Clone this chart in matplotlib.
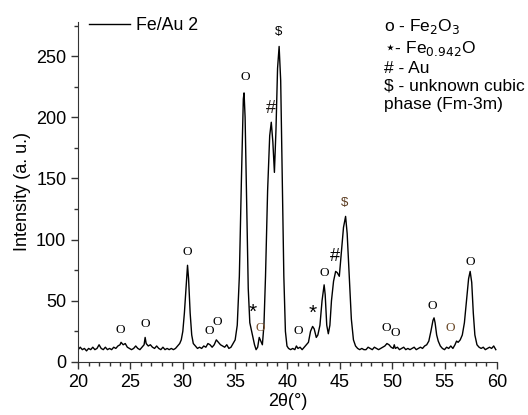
import matplotlib
matplotlib.use("Agg")
import matplotlib.pyplot as plt
from matplotlib.ticker import MultipleLocator

plt.rcParams['font.family'] = ['Liberation Sans', 'DejaVu Sans']

# XRD pattern: 2theta (deg), intensity (a. u.)
two_theta = [
    20.0, 20.2, 20.4, 20.6, 20.8, 21.0, 21.2, 21.4, 21.6, 21.8, 22.0, 22.2, 22.4, 22.6,
    22.8, 23.0, 23.2, 23.4, 23.6, 23.8, 24.0, 24.1, 24.3, 24.5, 24.7, 24.9, 25.1, 25.3,
    25.5, 25.7, 25.9, 26.1, 26.3, 26.4, 26.5, 26.7, 26.9, 27.1, 27.3, 27.5, 27.7, 27.9,
    28.1, 28.3, 28.5, 28.7, 28.9, 29.1, 29.3, 29.5, 29.7, 29.85, 30.0, 30.15, 30.3, 30.45,
    30.55, 30.7, 30.85, 31.0, 31.2, 31.4, 31.6, 31.8, 32.0, 32.2, 32.4, 32.6, 32.8, 33.0,
    33.2, 33.4, 33.6, 33.8, 34.0, 34.2, 34.4, 34.6, 34.8, 35.0, 35.2, 35.4, 35.6, 35.78,
    35.85, 35.95, 36.1, 36.25, 36.4, 36.55, 36.7, 36.85, 37.0, 37.15, 37.3, 37.45, 37.6,
    37.75, 37.9, 38.1, 38.3, 38.45, 38.6, 38.75, 38.9, 39.05, 39.2, 39.35, 39.5, 39.65,
    39.8, 39.95, 40.1, 40.3, 40.5, 40.7, 40.85, 41.0, 41.2, 41.4, 41.6, 41.8, 42.0, 42.2,
    42.4, 42.55, 42.75, 42.9, 43.1, 43.3, 43.5, 43.6, 43.75, 43.9, 44.05, 44.2, 44.4, 44.6,
    44.75, 44.95, 45.15, 45.35, 45.55, 45.7, 45.9, 46.1, 46.3, 46.5, 46.7, 46.9, 47.1,
    47.3, 47.5, 47.7, 47.9, 48.1, 48.3, 48.5, 48.7, 48.9, 49.1, 49.3, 49.5, 49.7, 49.9,
    50.1, 50.2, 50.3, 50.5, 50.7, 50.9, 51.1, 51.3, 51.5, 51.7, 51.9, 52.1, 52.3, 52.5,
    52.7, 52.9, 53.1, 53.3, 53.5, 53.7, 53.9, 54.0, 54.1, 54.25, 54.4, 54.6, 54.8, 55.0,
    55.2, 55.4, 55.6, 55.8, 56.0, 56.15, 56.3, 56.5, 56.7, 56.9, 57.1, 57.3, 57.45, 57.6,
    57.75, 57.9, 58.1, 58.3, 58.5, 58.7, 58.9, 59.1, 59.3, 59.5, 59.7, 59.9,
]
intensity = [
    10, 12, 10, 11, 9, 11, 10, 12, 10, 11, 14, 11, 10, 12,
    10, 11, 10, 12, 11, 13, 14, 16, 14, 15, 12, 11, 10, 11,
    13, 11, 10, 12, 14, 20, 15, 13, 14, 12, 11, 13, 11, 10,
    12, 10, 11, 10, 11, 10, 11, 13, 15, 18, 25, 40, 60, 79,
    68, 40, 22, 15, 13, 11, 12, 11, 13, 12, 15, 14, 12, 14,
    18, 16, 14, 13, 12, 14, 11, 12, 15, 18, 30, 70, 150, 215,
    220, 200, 130, 60, 32, 26, 20, 14, 10, 12, 20, 17, 14,
    30, 70, 140, 185, 196, 180, 155, 190, 240, 258, 230, 150, 70,
    25, 13, 11, 10, 11, 10, 13, 11, 12, 10, 12, 14, 16, 25,
    29, 27, 20, 22, 30, 50, 63, 55, 30, 23, 30, 50, 66, 74,
    73, 70, 90, 110, 119, 105, 70, 35, 18, 13, 11, 10, 11,
    10, 10, 12, 11, 10, 12, 11, 10, 11, 12, 13, 15, 14, 12,
    11, 14, 11, 12, 10, 11, 12, 10, 11, 10, 11, 12, 10, 11,
    12, 11, 13, 14, 17, 25, 34, 36, 32, 22, 17, 13, 11, 10,
    12, 11, 13, 11, 14, 17, 16, 18, 22, 32, 50, 68, 74, 65,
    40, 22, 14, 12, 11, 12, 10, 11, 12, 11, 13, 10,
]

# phase marks above the peaks
mark_x = [24.07, 26.4, 30.47, 32.5, 33.27, 35.94, 36.64, 37.35, 38.4, 39.19,
          41.03, 42.37, 43.5, 44.54, 45.49, 49.47, 50.33, 53.86, 55.58, 57.49]
mark_y = [25.7, 31, 90, 25.4, 33, 233, 40.4, 28, 207, 270,
          25.4, 40, 72.7, 85.8, 130, 27.6, 24, 46, 27.6, 82]
mark_s = ['O', 'O', 'O', 'O', 'O', 'O', '*', 'O', '#', '$',
          'O', '*', 'O', '#', '$', 'O', 'O', 'O', 'O', 'O']
mark_c = ['black'] * 7 + ['#7a5230', '#1a1410', 'black',
                          'black', 'black', 'black', 'black', '#5a3a1e',
                          'black', 'black', 'black', '#6b4a2a', 'black']

phase_lines = ['o - Fe$_2$O$_3$', '$\\star$- Fe$_{0.942}$O', '# - Au',
               '\\$ - unknown cubic', 'phase (Fm-3m)']
phase_y = [0.988, 0.922, 0.864, 0.811, 0.756]

fig = plt.figure(figsize=(5.28, 4.15), dpi=100)
ax = fig.add_axes([0.148, 0.128, 0.793, 0.819])

ax.plot(two_theta, intensity, color='black', lw=1.0, label='Fe/Au 2')

for x, y, s, c in zip(mark_x, mark_y, mark_s, mark_c):
    if s == 'O':
        ax.text(x, y, s, ha='center', va='center', fontsize=9.5,
                family='Liberation Serif', color=c)
    elif s == '*':
        ax.text(x, y, s, ha='center', va='center', fontsize=15, color=c)
    else:
        ax.text(x, y, s, ha='center', va='center', fontsize=13 if s == '#' else 9.5,
                color=c)

for t, yy in zip(phase_lines, phase_y):
    ax.text(0.730, yy, t, transform=ax.transAxes, fontsize=12.5,
            va='center', ha='left')

ax.set_xlim(20, 60)
ax.set_ylim(0, 278)
ax.xaxis.set_major_locator(MultipleLocator(5))
ax.xaxis.set_minor_locator(MultipleLocator(1))
ax.yaxis.set_major_locator(MultipleLocator(50))
ax.yaxis.set_minor_locator(MultipleLocator(25))
ax.tick_params(which='both', direction='out', labelsize=13, color='#333333')
ax.tick_params(which='major', length=5, width=1)
ax.tick_params(which='minor', length=3, width=1)
for side in ['top', 'right']:
    ax.spines[side].set_visible(False)
for side in ['left', 'bottom']:
    ax.spines[side].set_color('#333333')

ax.set_xlabel('2θ(°)', fontsize=13, labelpad=2)
ax.set_ylabel('Intensity (a. u.)', fontsize=13, labelpad=4)

ax.legend(loc='upper left', frameon=False, fontsize=12.8, handlelength=2.3,
          handletextpad=0.3, borderaxespad=0.0, bbox_to_anchor=(0.01, 1.035))

fig.savefig('out.png', dpi=100)
